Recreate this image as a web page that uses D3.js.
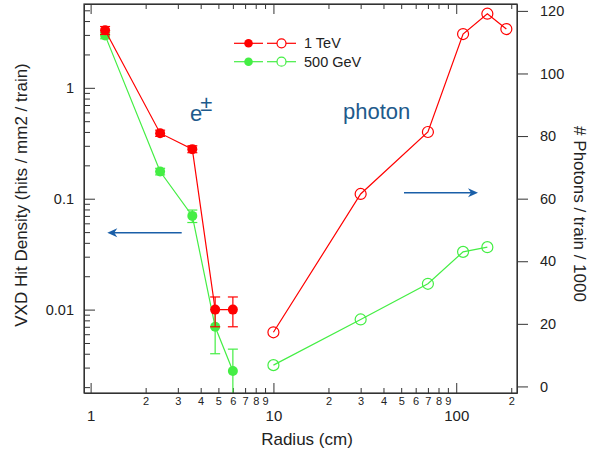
<!DOCTYPE html>
<html><head><meta charset="utf-8">
<script src="https://cdn.jsdelivr.net/npm/d3@7"></script>
<style>
body{margin:0;background:#fff;}
svg{display:block;font-family:"Liberation Sans",Arial,Helvetica,sans-serif;}
</style></head>
<body><svg id="c" width="601" height="453"></svg>
<script>
// ---- data ----
const radiusE = [1.2, 2.4, 3.6, 4.8, 6.0];
const densTeV = [3.3, 0.39, 0.28, 0.010, 0.010];
const errTeV  = [0.27, 0.025, 0.02, 0.003, 0.003];
const dens500 = [2.97, 0.176, 0.070, 0.0070, 0.0028];
const err500  = [0.2, 0.012, 0.009, 0.003, 0.0016];

const radiusPTeV = [10, 30, 70, 109, 148, 188];
const photTeV    = [17.3, 61.5, 81.3, 112.6, 119.1, 114.2];
const radiusP500 = [10, 30, 70, 109, 148];
const phot500    = [6.8, 21.4, 32.8, 43.0, 44.5];

const xMajor = [1, 10, 100];
const xMinor = [2,3,4,5,6,7,8,9,20,30,40,50,60,70,80,90,200];
const yMajor = [0.01, 0.1, 1];
const yMinor = [0.002,0.003,0.004,0.005,0.006,0.007,0.008,0.009,0.02,0.03,0.04,0.05,0.06,0.07,0.08,0.09,0.2,0.3,0.4,0.5,0.6,0.7,0.8,0.9,2,3,4,5];
const yRTicks = [0, 20, 40, 60, 80, 100, 120];
const legendLabels = ["1 TeV", "500 GeV"];

// ---- layout ----
const L = 84, R = 517, T = 4, B = 393;
const RED = "#ff0000", GREEN = "#44ee44", BLUE = "#1a5fa8", TXT = "#1e5a8c", AX = "#333";

const svg = d3.select("#c");
const x = d3.scaleLog().domain([0.92, 215]).range([L, R]);
const yL = d3.scaleLog().domain([0.00177, 5.7]).range([B, T]);
const yR = d3.scaleLinear().domain([-2.1, 122.2]).range([B, T]);

svg.append("defs").append("clipPath").attr("id","pc")
  .append("rect").attr("x", L).attr("y", T).attr("width", R-L).attr("height", B-T);

function styleAxis(g){
  g.selectAll("path").attr("stroke", AX);
  g.selectAll("line").attr("stroke", AX);
  g.selectAll("text").attr("fill", "#222");
}
// bottom axis
svg.append("g").attr("transform",`translate(0,${B})`)
  .call(d3.axisBottom(x).tickValues(xMinor).tickSize(-5).tickPadding(4).tickFormat(d => String(d).charAt(0)))
  .call(g => { g.select(".domain").remove(); g.selectAll("text").attr("font-size", 11); })
  .call(styleAxis);
svg.append("g").attr("transform",`translate(0,${B})`)
  .call(d3.axisBottom(x).tickValues(xMajor).tickSize(-10).tickSizeOuter(0).tickPadding(17).tickFormat(d3.format("d")))
  .call(g => g.selectAll("text").attr("font-size", 15))
  .call(styleAxis);
// top axis
svg.append("g").attr("transform",`translate(0,${T})`)
  .call(d3.axisTop(x).tickValues(xMinor).tickSize(-5).tickFormat(""))
  .call(g => g.select(".domain").remove()).call(styleAxis);
svg.append("g").attr("transform",`translate(0,${T})`)
  .call(d3.axisTop(x).tickValues(xMajor).tickSize(-10).tickSizeOuter(0).tickFormat(""))
  .call(styleAxis);
// left axis
svg.append("g").attr("transform",`translate(${L},0)`)
  .call(d3.axisLeft(yL).tickValues(yMinor).tickSize(-6).tickFormat(""))
  .call(g => g.select(".domain").remove()).call(styleAxis);
svg.append("g").attr("transform",`translate(${L},0)`)
  .call(d3.axisLeft(yL).tickValues(yMajor).tickSize(-11).tickSizeOuter(0).tickPadding(10).tickFormat(d => String(d)))
  .call(g => g.selectAll("text").attr("font-size", 14.5))
  .call(styleAxis);
// right axis
svg.append("g").attr("transform",`translate(${R},0)`)
  .call(d3.axisRight(yR).tickValues(yRTicks).tickSize(11).tickSizeOuter(0).tickPadding(12))
  .call(g => g.selectAll("text").attr("font-size", 14.5))
  .call(styleAxis);

// axis titles
svg.append("text").attr("transform","translate(27,195) rotate(-90)").attr("text-anchor","middle")
  .attr("font-size",17).attr("fill","#222").text("VXD Hit Density (hits / mm2 / train)");
svg.append("text").attr("x",307).attr("y",445).attr("text-anchor","middle")
  .attr("font-size",17).attr("fill","#222").text("Radius (cm)");
svg.append("text").attr("transform","translate(574,214) rotate(90)").attr("text-anchor","middle")
  .attr("font-size",17).attr("fill","#222").text("# Photons / train / 1000");

const plot = svg.append("g").attr("clip-path","url(#pc)");

// e± series (left axis)
function eSeries(vals, errs, color){
  const pts = radiusE.map((r,i)=>({r, v: vals[i], e: errs[i]}));
  plot.append("path").datum(pts).attr("fill","none").attr("stroke",color).attr("stroke-width",1.2)
    .attr("d", d3.line().x(d=>x(d.r)).y(d=>yL(d.v)));
  const eb = plot.append("g").attr("stroke",color).attr("stroke-width",1.2);
  pts.forEach(d=>{
    const lo = Math.max(d.v - d.e, 1e-4), hi = d.v + d.e;
    eb.append("line").attr("x1",x(d.r)).attr("x2",x(d.r)).attr("y1",yL(lo)).attr("y2",yL(hi));
    eb.append("line").attr("x1",x(d.r)-5).attr("x2",x(d.r)+5).attr("y1",yL(hi)).attr("y2",yL(hi));
    eb.append("line").attr("x1",x(d.r)-5).attr("x2",x(d.r)+5).attr("y1",yL(lo)).attr("y2",yL(lo));
  });
  plot.append("g").selectAll("circle").data(pts).join("circle")
    .attr("cx",d=>x(d.r)).attr("cy",d=>yL(d.v)).attr("r",5).attr("fill",color);
}
// photon series (right axis)
function pSeries(rs, vals, color){
  const pts = rs.map((r,i)=>({r, v: vals[i]}));
  plot.append("path").datum(pts).attr("fill","none").attr("stroke",color).attr("stroke-width",1.2)
    .attr("d", d3.line().x(d=>x(d.r)).y(d=>yR(d.v)));
  plot.append("g").selectAll("circle").data(pts).join("circle")
    .attr("cx",d=>x(d.r)).attr("cy",d=>yR(d.v)).attr("r",5.5)
    .attr("fill","none").attr("stroke",color).attr("stroke-width",1.2);
}
eSeries(dens500, err500, GREEN);
eSeries(densTeV, errTeV, RED);
pSeries(radiusP500, phot500, GREEN);
pSeries(radiusPTeV, photTeV, RED);

// frame
svg.append("rect").attr("x",L).attr("y",T).attr("width",R-L).attr("height",B-T)
  .attr("fill","none").attr("stroke",AX).attr("stroke-width",1.2);

// legend
const legColors = [RED, GREEN];
legendLabels.forEach((lab,i)=>{
  const yy = 43.3 + i*18.4;
  const g = svg.append("g");
  g.append("line").attr("x1",234).attr("x2",263).attr("y1",yy).attr("y2",yy).attr("stroke",legColors[i]).attr("stroke-width",1.2);
  g.append("line").attr("x1",267).attr("x2",296).attr("y1",yy).attr("y2",yy).attr("stroke",legColors[i]).attr("stroke-width",1.2);
  g.append("circle").attr("cx",248.5).attr("cy",yy).attr("r",4.3).attr("fill",legColors[i]);
  g.append("circle").attr("cx",281.5).attr("cy",yy).attr("r",4.5).attr("fill","#fff").attr("stroke",legColors[i]).attr("stroke-width",1.2);
  g.append("text").attr("x",304).attr("y",yy+5).attr("font-size",14.5).attr("fill","#222").text(lab);
});

// annotations
const eText = svg.append("text").attr("x",190).attr("y",121).attr("font-size",22).attr("fill",TXT);
eText.append("tspan").text("e");
eText.append("tspan").attr("dx",-2).attr("dy",-10.5).text("±");
svg.append("text").attr("x",343).attr("y",118.5).attr("font-size",22).attr("fill",TXT).text("photon");

function arrow(x1, x2, yy){
  const dir = Math.sign(x2 - x1);
  svg.append("line").attr("x1",x1).attr("x2",x2 - dir*6).attr("y1",yy).attr("y2",yy)
    .attr("stroke",BLUE).attr("stroke-width",1.5);
  svg.append("path").attr("fill",BLUE)
    .attr("d",`M${x2},${yy} L${x2-dir*10},${yy-4.5} L${x2-dir*7},${yy} L${x2-dir*10},${yy+4.5} Z`);
}
arrow(181.7, 107.3, 232.7);
arrow(404, 478, 192.7);
</script></body></html>
